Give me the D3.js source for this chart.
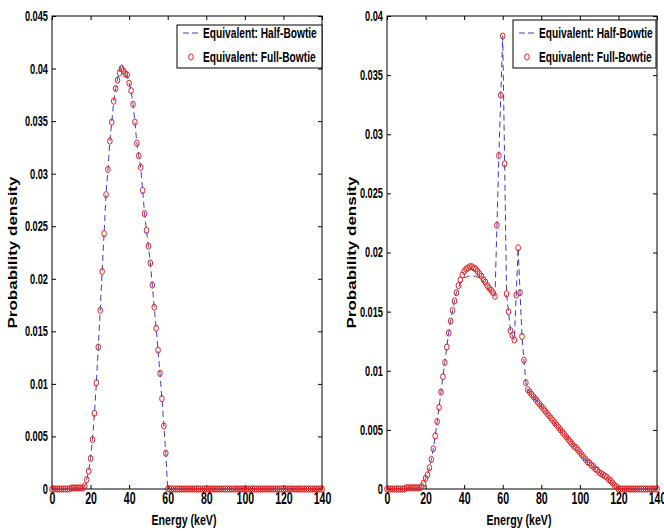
<!DOCTYPE html>
<html>
<head>
<meta charset="utf-8">
<script src="https://cdn.jsdelivr.net/npm/d3@7"></script>
<style>
  body { margin: 0; background: #fff; }
  svg text { font-family: "Liberation Sans", Arial, sans-serif; fill: #000; font-weight: bold; }
</style>
</head>
<body>
<div id="graph"></div>
<script>
// energy grid, 1 keV bins
var energy = d3.range(0, 141)

var xTicks = [0, 20, 40, 60, 80, 100, 120, 140]
var yTicksLeft = [0, 0.005, 0.01, 0.015, 0.02, 0.025, 0.03, 0.035, 0.04, 0.045]
var yTicksRight = [0, 0.005, 0.01, 0.015, 0.02, 0.025, 0.03, 0.035, 0.04]

var seriesNames = ['Equivalent: Half-Bowtie', 'Equivalent: Full-Bowtie']

// left panel
var leftHalf = [
  0, 0, 0, 0, 0, 0, 0, 0, 0, 0,
  0.0001, 0.0001, 0.0001, 0.0001, 0.0001, 0.0001, 0.0001, 0.0003, 0.0009, 0.0017,
  0.0029, 0.0047, 0.0072, 0.0101, 0.0135, 0.0170, 0.0207, 0.0243, 0.0280, 0.0304,
  0.0331, 0.0349, 0.0369, 0.0381, 0.0390, 0.0398, 0.0405, 0.0401, 0.0395, 0.0393,
  0.0386, 0.0379, 0.0366, 0.0349, 0.0329, 0.0317, 0.0306, 0.0284, 0.0262, 0.0246,
  0.0231, 0.0215, 0.0194, 0.0173, 0.0153, 0.0132, 0.0110, 0.0086, 0.0060, 0.0034,
  0, 0, 0, 0, 0, 0, 0, 0, 0, 0,
  0, 0, 0, 0, 0, 0, 0, 0, 0, 0,
  0, 0, 0, 0, 0, 0, 0, 0, 0, 0,
  0, 0, 0, 0, 0, 0, 0, 0, 0, 0,
  0, 0, 0, 0, 0, 0, 0, 0, 0, 0,
  0, 0, 0, 0, 0, 0, 0, 0, 0, 0,
  0, 0, 0, 0, 0, 0, 0, 0, 0, 0,
  0, 0, 0, 0, 0, 0, 0, 0, 0, 0,
  0
]
var leftFull = [
  0, 0, 0, 0, 0, 0, 0, 0, 0, 0,
  0.0001, 0.0001, 0.0001, 0.0001, 0.0001, 0.0001, 0.0001, 0.0003, 0.0009, 0.0017,
  0.0029, 0.0047, 0.0072, 0.0101, 0.0135, 0.0170, 0.0207, 0.0243, 0.0280, 0.0304,
  0.0331, 0.0349, 0.0369, 0.0381, 0.0389, 0.0396, 0.0400, 0.0398, 0.0395, 0.0394,
  0.0386, 0.0379, 0.0366, 0.0349, 0.0329, 0.0317, 0.0306, 0.0284, 0.0262, 0.0246,
  0.0231, 0.0215, 0.0194, 0.0173, 0.0153, 0.0132, 0.0110, 0.0086, 0.0060, 0.0034,
  0, 0, 0, 0, 0, 0, 0, 0, 0, 0,
  0, 0, 0, 0, 0, 0, 0, 0, 0, 0,
  0, 0, 0, 0, 0, 0, 0, 0, 0, 0,
  0, 0, 0, 0, 0, 0, 0, 0, 0, 0,
  0, 0, 0, 0, 0, 0, 0, 0, 0, 0,
  0, 0, 0, 0, 0, 0, 0, 0, 0, 0,
  0, 0, 0, 0, 0, 0, 0, 0, 0, 0,
  0, 0, 0, 0, 0, 0, 0, 0, 0, 0,
  0
]

// right panel
var rightHalf = [
  0, 0, 0, 0, 0, 0, 0, 0, 0, 0,
  0.0001, 0.0001, 0.0001, 0.0001, 0.0001, 0.0001, 0.0001, 0.0001, 0.0002, 0.0005,
  0.0009, 0.0012, 0.0018, 0.0025, 0.0034, 0.0045, 0.0057, 0.0069, 0.0082, 0.0095,
  0.0107, 0.0120, 0.0132, 0.0142, 0.0151, 0.0159, 0.0166, 0.0170, 0.0174, 0.0177,
  0.0179, 0.0179, 0.0180, 0.0180, 0.0180, 0.0180, 0.0180, 0.0179, 0.0179, 0.0177,
  0.0174, 0.0172, 0.0170, 0.0168, 0.0166, 0.0165, 0.0163, 0.0223, 0.0282, 0.0333,
  0.0383, 0.0275, 0.0165, 0.0150, 0.0134, 0.0130, 0.0126, 0.0164, 0.0204, 0.0166,
  0.0129, 0.0109, 0.0090, 0.0084, 0.0082, 0.0080, 0.0078, 0.0076, 0.0074, 0.0072,
  0.0070, 0.0068, 0.0066, 0.0064, 0.0062, 0.0060, 0.0058, 0.0056, 0.0054, 0.0052,
  0.0050, 0.0048, 0.0046, 0.0044, 0.0042, 0.0040, 0.0038, 0.0036, 0.0035, 0.0033,
  0.0031, 0.0029, 0.0027, 0.0025, 0.0023, 0.0022, 0.0020, 0.0019, 0.0017, 0.0016,
  0.0014, 0.0013, 0.0012, 0.0011, 0.0010, 0.0008, 0.0007, 0.0005, 0.0003, 0.0002,
  0, 0, 0, 0, 0, 0, 0, 0, 0, 0,
  0, 0, 0, 0, 0, 0, 0, 0, 0, 0,
  0
]
var rightFull = [
  0, 0, 0, 0, 0, 0, 0, 0, 0, 0,
  0.0001, 0.0001, 0.0001, 0.0001, 0.0001, 0.0001, 0.0001, 0.0001, 0.0002, 0.0005,
  0.0009, 0.0012, 0.0018, 0.0025, 0.0034, 0.0045, 0.0057, 0.0069, 0.0082, 0.0095,
  0.0107, 0.0120, 0.0132, 0.0142, 0.0151, 0.0159, 0.0166, 0.0172, 0.0177, 0.0181,
  0.0184, 0.0186, 0.0187, 0.0188, 0.0188, 0.0187, 0.0186, 0.0184, 0.0182, 0.0180,
  0.0177, 0.0175, 0.0172, 0.0170, 0.0168, 0.0166, 0.0163, 0.0223, 0.0282, 0.0333,
  0.0383, 0.0275, 0.0165, 0.0150, 0.0134, 0.0130, 0.0126, 0.0164, 0.0204, 0.0166,
  0.0129, 0.0109, 0.0090, 0.0084, 0.0082, 0.0080, 0.0078, 0.0076, 0.0074, 0.0072,
  0.0070, 0.0068, 0.0066, 0.0064, 0.0062, 0.0060, 0.0058, 0.0056, 0.0054, 0.0052,
  0.0050, 0.0048, 0.0046, 0.0044, 0.0042, 0.0040, 0.0038, 0.0036, 0.0035, 0.0033,
  0.0031, 0.0029, 0.0027, 0.0025, 0.0023, 0.0022, 0.0020, 0.0019, 0.0017, 0.0016,
  0.0014, 0.0013, 0.0012, 0.0011, 0.0010, 0.0008, 0.0007, 0.0005, 0.0003, 0.0002,
  0, 0, 0, 0, 0, 0, 0, 0, 0, 0,
  0, 0, 0, 0, 0, 0, 0, 0, 0, 0,
  0
]

var lineColor = '#3b3bc8'
var dotColor = '#dd2222'

var width = 664, height = 531

var svg = d3.select('#graph').append('svg')
  .attr('width', width).attr('height', height)

var panels = [
  {left: 52, right: 322, top: 16, bottom: 489, yMax: 0.045, yTicks: yTicksLeft,
    half: leftHalf, full: leftFull, ylabelX: 13,
    legend: {x: 177, y: 25, w: 145, h: 43}},
  {left: 387, right: 657, top: 16, bottom: 489, yMax: 0.04, yTicks: yTicksRight,
    half: rightHalf, full: rightFull, ylabelX: 352,
    legend: {x: 513, y: 20, w: 143, h: 48}}
]

var fmt = d => String(+d.toFixed(3))
var sx = 0.66   // narrow look of the original lettering

panels.forEach(function(p){
  var x = d3.scaleLinear().domain([0, 140]).range([p.left, p.right])
  var y = d3.scaleLinear().domain([0, p.yMax]).range([p.bottom, p.top])
  var g = svg.append('g')

  // bottom axis with labels, ticks pointing inward
  var bx = g.append('g').attr('transform', 'translate(0,' + p.bottom + ')')
    .call(d3.axisBottom(x).tickValues(xTicks).tickSizeInner(-4).tickSizeOuter(0).tickPadding(4))
  bx.selectAll('text').style('font-size', '16px').style('font-weight', 'bold')
    .attr('transform', 'scale(' + sx + ',1)')

  var ly = g.append('g').attr('transform', 'translate(' + p.left + ',0)')
    .call(d3.axisLeft(y).tickValues(p.yTicks).tickFormat(fmt).tickSizeInner(-4).tickSizeOuter(0).tickPadding(4))
  ly.selectAll('text').style('font-size', '14px').style('font-weight', 'bold')
    .attr('x', -4 / sx)
    .attr('transform', 'scale(' + sx + ',1)')

  g.append('g').attr('transform', 'translate(0,' + p.top + ')')
    .call(d3.axisTop(x).tickValues(xTicks).tickFormat('').tickSizeInner(-4).tickSizeOuter(0))
  g.append('g').attr('transform', 'translate(' + p.right + ',0)')
    .call(d3.axisRight(y).tickValues(p.yTicks).tickFormat('').tickSizeInner(-4).tickSizeOuter(0))

  g.selectAll('.domain').remove()
  g.selectAll('.tick line').attr('stroke', '#000')

  g.append('rect')
    .attr('x', p.left).attr('y', p.top)
    .attr('width', p.right - p.left).attr('height', p.bottom - p.top)
    .attr('fill', 'none').attr('stroke', '#000').attr('stroke-width', 1)

  var line = d3.line()
    .x((d, i) => x(energy[i]))
    .y(d => y(d))

  g.append('path')
    .datum(p.half)
    .attr('d', line)
    .attr('fill', 'none')
    .attr('stroke', lineColor)
    .attr('stroke-width', 1)
    .attr('stroke-dasharray', '6,4')

  g.selectAll('ellipse.dot').data(p.full).enter().append('ellipse')
    .attr('class', 'dot')
    .attr('cx', (d, i) => x(energy[i]))
    .attr('cy', d => y(d))
    .attr('rx', 2.3).attr('ry', 3.1)
    .attr('fill', 'none')
    .attr('stroke', dotColor)
    .attr('stroke-width', 1)

  // axis titles
  g.append('text')
    .attr('transform', 'translate(' + ((p.left + p.right) / 2 - 3) + ',525) scale(0.76,1)')
    .attr('text-anchor', 'middle')
    .style('font-size', '14px')
    .text('Energy (keV)')

  g.append('text')
    .attr('transform', 'translate(' + p.ylabelX + ',' + ((p.top + p.bottom) / 2) + ') rotate(-90) scale(1,0.72)')
    .attr('text-anchor', 'middle')
    .attr('dy', '0.35em')
    .style('font-size', '17px')
    .text('Probability density')

  // legend
  var L = p.legend
  var lg = g.append('g').attr('transform', 'translate(' + L.x + ',' + L.y + ')')
  lg.append('rect')
    .attr('width', L.w).attr('height', L.h)
    .attr('fill', '#fff').attr('stroke', '#000')
  var row1 = 33 - L.y, row2 = 57 - L.y
  lg.append('line')
    .attr('x1', 6).attr('x2', 23).attr('y1', row1).attr('y2', row1)
    .attr('stroke', lineColor).attr('stroke-dasharray', '6,3')
  lg.append('ellipse')
    .attr('cx', 14).attr('cy', row2).attr('rx', 2.3).attr('ry', 3.1)
    .attr('fill', 'none').attr('stroke', dotColor)
  lg.selectAll('text.leg').data(seriesNames).enter().append('text')
    .attr('class', 'leg')
    .attr('transform', (d, i) => 'translate(26,' + (i ? row2 : row1) + ') scale(0.68,1)')
    .attr('dy', '0.36em')
    .style('font-size', '15px')
    .text(d => d)
})
</script>
</body>
</html>
